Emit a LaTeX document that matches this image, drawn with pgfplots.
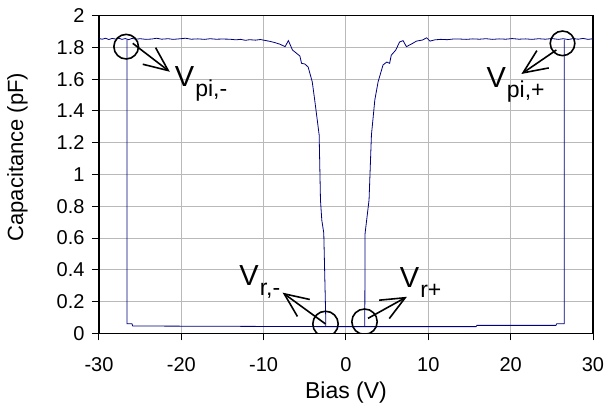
\documentclass[border=0pt]{standalone}
\usepackage{fontspec}
\setmainfont{Liberation Sans}
\usepackage{pgfplots}
\pgfplotsset{compat=1.18}
\usetikzlibrary{arrows.meta}
\definecolor{trace}{HTML}{000080}

\begin{document}
\begin{tikzpicture}
\begin{axis}[
  scale only axis, width=494bp, height=317.6bp,
  xmin=-30, xmax=30, ymin=0, ymax=2,
  xtick={-30,-20,-10,0,10,20,30},
  ytick={0,0.2,0.4,0.6,0.8,1,1.2,1.4,1.6,1.8,2},
  /pgf/number format/assume math mode=true,
  /pgf/number format/fixed,
  ticklabel style={font=\fontsize{20bp}{24bp}\selectfont},
  xticklabel style={yshift=-13.5bp},
  yticklabel style={xshift=-4bp},
  tick align=outside, tick pos=left, major tick length=7bp,
  tick style={black, line width=1bp},
  axis line style={black, line width=1.2bp},
  grid=major, grid style={gray!55, line width=1bp},
  xlabel={Bias (V)}, ylabel={Capacitance (pF)},
  xlabel style={at={(axis description cs:0.5,-0.204)}, anchor=base, font=\fontsize{23bp}{26bp}\selectfont},
  ylabel style={at={(axis description cs:-0.137,0.555)}, anchor=south, font=\fontsize{22bp}{26bp}\selectfont},
]
% high-capacitance branch, negative side
\addplot[trace, line width=0.8bp] coordinates {
  (-30,1.856) (-29.6,1.852) (-29.2,1.858) (-28.8,1.850) (-28.4,1.857) (-28.0,1.853)
  (-27.6,1.858) (-27.2,1.851) (-26.8,1.856) (-26.4,1.849) (-26.0,1.857) (-25.5,1.852)
  (-25.0,1.855) (-24.3,1.851) (-23.6,1.853) (-23.0,1.858) (-22.4,1.852) (-21.6,1.855)
  (-21.0,1.851) (-20.3,1.854) (-19.5,1.858) (-18.8,1.852) (-18.0,1.854) (-17.2,1.851)
  (-16.5,1.855) (-15.8,1.852) (-15.0,1.853) (-14.1,1.852) (-13.4,1.848) (-12.8,1.851)
  (-12.2,1.845) (-11.7,1.849) (-11.0,1.846) (-10.4,1.850) (-9.8,1.844) (-9.2,1.838)
  (-8.6,1.830) (-8.0,1.820) (-7.4,1.805) (-7.0,1.843) (-6.5,1.784) (-6.0,1.763)
  (-5.6,1.746) (-5.4,1.700) (-5.0,1.696) (-4.6,1.677) (-4.1,1.584) (-3.8,1.469)
  (-3.26,1.249) (-3.1,0.839) (-2.94,0.713) (-2.7,0.632) (-2.45,0.073) (-2.45,0.042)
};
% low-capacitance branch with pull-in jumps
\addplot[trace, line width=0.8bp] coordinates {
  (-26.6,1.850) (-26.6,0.060) (-26.0,0.060) (-25.9,0.046) (-2.45,0.042) (2.28,0.042)
  (15.8,0.042) (15.9,0.050) (25.5,0.050) (25.6,0.060) (26.5,0.060) (26.5,1.850)
};
% high-capacitance branch, positive side
\addplot[trace, line width=0.8bp] coordinates {
  (2.28,0.042) (2.32,0.630) (2.8,0.840) (3.09,1.249) (3.5,1.469) (3.9,1.584)
  (4.5,1.690) (4.95,1.708) (5.3,1.700) (5.5,1.752) (5.7,1.763) (6.05,1.784)
  (6.5,1.834) (6.93,1.843) (7.34,1.805) (8.1,1.826) (8.56,1.840) (9.3,1.847)
  (9.8,1.861) (10.2,1.840) (10.8,1.848) (11.5,1.851) (12.3,1.849) (13.0,1.853)
  (13.8,1.853) (14.6,1.851) (15.4,1.854) (16.2,1.852) (17.0,1.855) (17.8,1.851)
  (18.6,1.854) (19.4,1.852) (20.2,1.856) (21.0,1.852) (21.8,1.854) (22.6,1.851)
  (23.4,1.855) (24.2,1.852) (25.0,1.856) (25.8,1.851) (26.4,1.855) (27.0,1.850)
  (27.6,1.856) (28.2,1.852) (28.8,1.857) (29.4,1.851) (30,1.855)
};
% annotations
\draw[line width=1.6bp] (-26.7,1.805) circle[radius=12.3bp];
\draw[line width=1.6bp] (26.3,1.826) circle[radius=12.3bp];
\draw[line width=1.6bp] (-2.49,0.059) circle[radius=12.7bp];
\draw[line width=1.6bp] (2.25,0.073) circle[radius=12.7bp];
\draw[line width=1.6bp, -{Straight Barb[length=24bp,width=21bp]}] (-25.9,1.826) -- (-21.4,1.647);
\draw[line width=1.6bp, -{Straight Barb[length=24bp,width=21bp]}] (25.55,1.784) -- (21.3,1.633);
\draw[line width=1.6bp, -{Straight Barb[length=24bp,width=21bp]}] (-2.49,0.059) -- (-7.7,0.256);
\draw[line width=1.6bp, -{Straight Barb[length=24bp,width=21bp]}] (2.67,0.094) -- (7.4,0.23);
\node[anchor=base west, inner sep=0, font=\fontsize{29bp}{31bp}\selectfont] at (-20.8,1.557)
  {V\hspace{1bp}\raisebox{-10bp}{\fontsize{23bp}{25bp}\selectfont pi,-}};
\node[anchor=base west, inner sep=0, font=\fontsize{29bp}{31bp}\selectfont] at (17.05,1.549)
  {V\hspace{1bp}\raisebox{-10bp}{\fontsize{23bp}{25bp}\selectfont pi,+}};
\node[anchor=base west, inner sep=0, font=\fontsize{29bp}{31bp}\selectfont] at (-12.97,0.304)
  {V\hspace{1bp}\raisebox{-10bp}{\fontsize{23bp}{25bp}\selectfont r,-}};
\node[anchor=base west, inner sep=0, font=\fontsize{29bp}{31bp}\selectfont] at (6.53,0.29)
  {V\hspace{1bp}\raisebox{-10bp}{\fontsize{23bp}{25bp}\selectfont r+}};
\end{axis}
\pgfresetboundingbox
\path (-99bp,-72.7bp) rectangle (509bp,333.3bp);
\end{tikzpicture}
\end{document}
